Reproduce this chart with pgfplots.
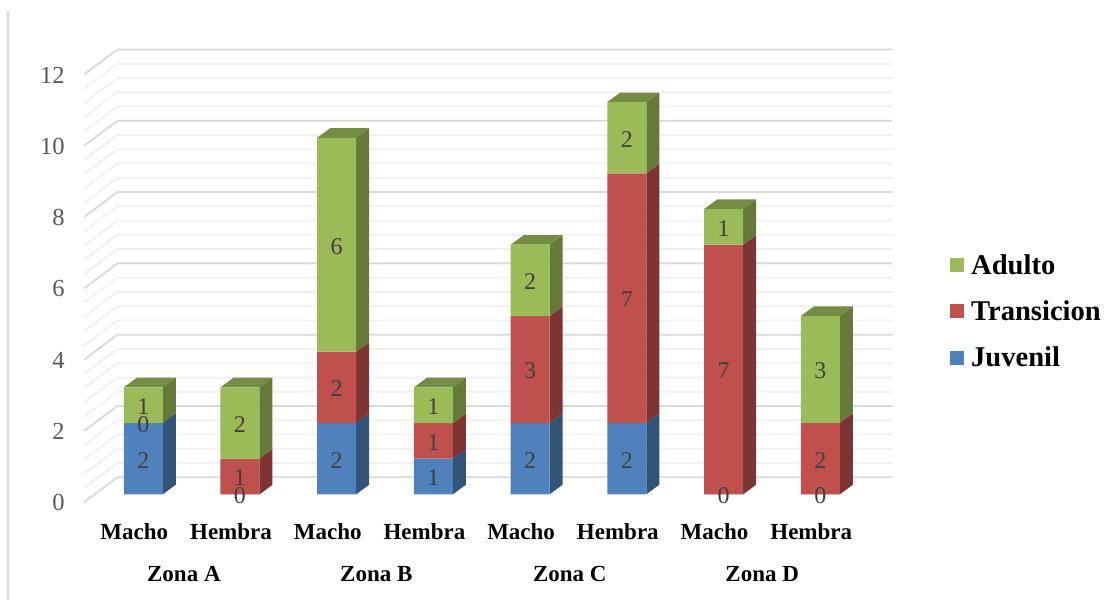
\documentclass[border=0pt]{standalone}
\usepackage{pgfplots}
\usepackage{pgfplotstable}
\usepackage{fontspec}
\pgfplotsset{compat=1.18}
\setmainfont{Liberation Serif}

\definecolor{juv}{HTML}{4F81BD}
\definecolor{tra}{HTML}{C0504D}
\definecolor{adu}{HTML}{9BBB59}
\definecolor{juvside}{HTML}{335479}
\definecolor{traside}{HTML}{7D3432}
\definecolor{aduside}{HTML}{657A3A}
\definecolor{adutop}{HTML}{748C43}
\definecolor{gridmajor}{HTML}{D9D9D9}
\definecolor{gridminor}{HTML}{F0F0F0}

% x = bar index, juvenil / transicion / adulto counts
\pgfplotstableread{
x juvenil transicion adulto
0 2 0 1
1 0 1 2
2 2 2 6
3 1 1 1
4 2 3 2
5 2 7 2
6 0 7 1
7 0 2 3
}\conteos

% half a bar width, and the oblique depth offset of the 3D box
\def\hw{0.2016}
\def\dx{0.1344}
\def\dy{0.2692}

% one coloured side panel between two stacked heights
\newcommand{\sidepanel}[4]{%
  \addplot[forget plot, fill=#4, draw=none] coordinates
    {({#1+\hw},#2) ({#1+\hw+\dx},{#2+\dy}) ({#1+\hw+\dx},{#3+\dy}) ({#1+\hw},#3)} --cycle;
}
% side panels of one bar and its top face
\newcommand{\depthbox}[4]{%
  \sidepanel{#1}{0}{#2}{juvside}
  \sidepanel{#1}{#2}{#2+#3}{traside}
  \sidepanel{#1}{#2+#3}{#2+#3+#4}{aduside}
  \addplot[forget plot, fill=adutop, draw=none] coordinates
    {({#1-\hw},{#2+#3+#4}) ({#1+\hw},{#2+#3+#4})
     ({#1+\hw+\dx},{#2+#3+#4+\dy}) ({#1-\hw+\dx},{#2+#3+#4+\dy})} --cycle;
}
% the three value labels of one bar
\newcommand{\valuelabels}[4]{%
  \node[vlabel] at (axis cs:#1,{#2/2}) {#2};
  \node[vlabel] at (axis cs:#1,{#2+#3/2}) {#3};
  \node[vlabel] at (axis cs:#1,{#2+#3+#4/2}) {#4};
}
\newcommand{\wallline}[2]{%
  \addplot[forget plot, draw=#2, line width=1.8pt] coordinates
    {(-0.612,{#1-0.224}) (-0.268,{#1+0.477}) (7.748,{#1+0.477})};
}

\begin{document}
\begin{tikzpicture}[
  vlabel/.style={font=\fontsize{24}{24}\selectfont, text=black!75, inner sep=0pt, yshift=-1.5pt}]
\begin{axis}[
  scale only axis, width=1116pt, height=602pt,
  xmin=-1.4804, xmax=10.0569, ymin=-3.0202, ymax=13.861,
  clip=false,
  axis line style={draw=none},
  major tick length=0pt,
  ytick={0,2,4,6,8,10,12},
  xtick={0,...,7},
  xticklabels={Macho,Hembra,Macho,Hembra,Macho,Hembra,Macho,Hembra},
  /pgf/number format/assume math mode=true,
  yticklabel style={font=\fontsize{24.5}{24.5}\selectfont, text=black!65, anchor=east, xshift=68pt, yshift=-8.5pt},
  xticklabel style={font=\fontsize{23}{23}\selectfont\bfseries, anchor=center, xshift=-9pt, yshift=70pt},
  legend style={at={(947/1116,1-250/602)}, anchor=north west, draw=none, fill=none,
    font=\fontsize{28.6}{28.6}\selectfont\bfseries, row sep=21pt,
    /tikz/every odd column/.append style={column sep=5pt}},
  legend cell align=left,
  reverse legend,
  legend image code/.code={\fill[#1,draw=none] (0pt,-7pt) rectangle (14pt,7pt);},
]
% back wall: major gridlines every 2, minor every 0.4
\pgfplotsinvokeforeach{0.4,0.8,1.2,1.6,2.4,2.8,3.2,3.6,4.4,4.8,5.2,5.6,6.4,6.8,7.2,7.6,8.4,8.8,9.2,9.6,10.4,10.8,11.2,11.6}{\wallline{#1}{gridminor}}
\pgfplotsinvokeforeach{0,2,4,6,8,10,12}{\wallline{#1}{gridmajor}}
% frame rule at the left of the chart
\addplot[forget plot, draw=gridmajor, line width=2pt] coordinates {(-1.3946,13.553) (-1.3946,-2.964)};

\depthbox{0}{2}{0}{1}
\depthbox{1}{0}{1}{2}
\depthbox{2}{2}{2}{6}
\depthbox{3}{1}{1}{1}
\depthbox{4}{2}{3}{2}
\depthbox{5}{2}{7}{2}
\depthbox{6}{0}{7}{1}
\depthbox{7}{0}{2}{3}

\addplot[ybar, bar shift=0pt, bar width=39pt, stack plots=y, fill=juv, draw=none] table[x=x,y=juvenil] {\conteos};
\addplot[ybar, bar shift=0pt, bar width=39pt, stack plots=y, fill=tra, draw=none] table[x=x,y=transicion] {\conteos};
\addplot[ybar, bar shift=0pt, bar width=39pt, stack plots=y, fill=adu, draw=none] table[x=x,y=adulto] {\conteos};
\legend{Juvenil,Transicion,Adulto}

\valuelabels{0}{2}{0}{1}
\valuelabels{1}{0}{1}{2}
\valuelabels{2}{2}{2}{6}
\valuelabels{3}{1}{1}{1}
\valuelabels{4}{2}{3}{2}
\valuelabels{5}{2}{7}{2}
\valuelabels{6}{0}{7}{1}
\valuelabels{7}{0}{2}{3}

% zone captions under each pair of bars
\node[font=\fontsize{23}{23}\selectfont\bfseries] at (axis cs:0.42,-2.24) {Zona A};
\node[font=\fontsize{23}{23}\selectfont\bfseries] at (axis cs:2.41,-2.24) {Zona B};
\node[font=\fontsize{23}{23}\selectfont\bfseries] at (axis cs:4.41,-2.24) {Zona C};
\node[font=\fontsize{23}{23}\selectfont\bfseries] at (axis cs:6.40,-2.24) {Zona D};
\end{axis}
\end{tikzpicture}
\end{document}
